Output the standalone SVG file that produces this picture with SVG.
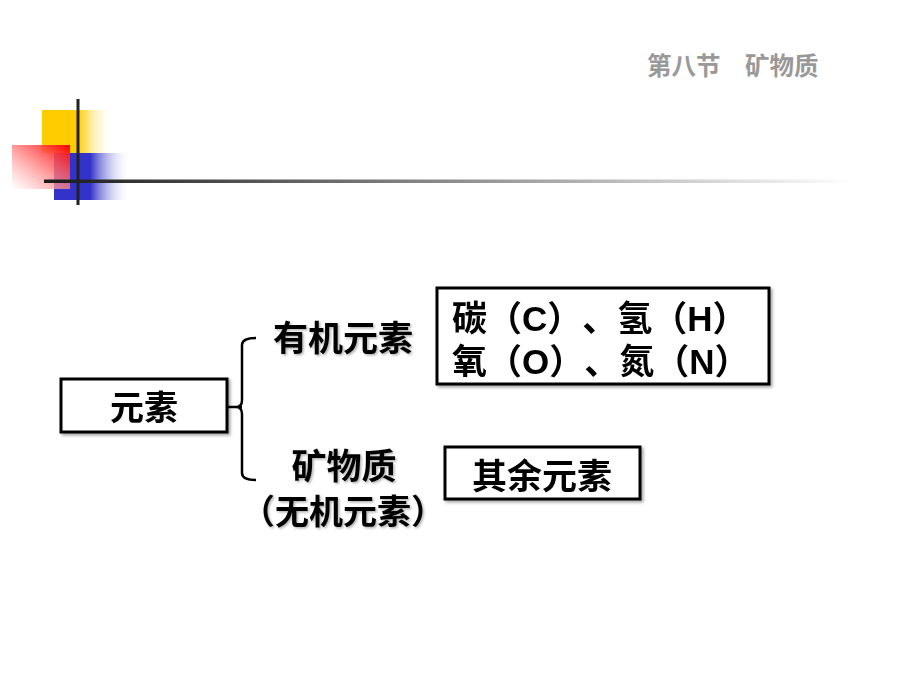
<svg xmlns="http://www.w3.org/2000/svg" width="920" height="690" viewBox="0 0 920 690">
<defs>
<linearGradient id="gy" x1="0" y1="0" x2="1" y2="0">
<stop offset="0" stop-color="#ffcc00"/><stop offset="0.5" stop-color="#ffcc00"/><stop offset="1" stop-color="#ffffff" stop-opacity="0"/>
</linearGradient>
<linearGradient id="gb" x1="0" y1="0" x2="1" y2="0">
<stop offset="0" stop-color="#3333cc"/><stop offset="0.47" stop-color="#3333cc"/><stop offset="1" stop-color="#ffffff" stop-opacity="0"/>
</linearGradient>
<linearGradient id="gr" x1="1" y1="0" x2="0" y2="1">
<stop offset="0" stop-color="#ff0000"/><stop offset="1" stop-color="#ffffff" stop-opacity="0.6"/>
</linearGradient>
<linearGradient id="gl" x1="0" y1="0" x2="1" y2="0">
<stop offset="0" stop-color="#1a1a1a"/><stop offset="1" stop-color="#ffffff"/>
</linearGradient>
<filter id="sh" x="-10%" y="-10%" width="130%" height="140%">
<feDropShadow dx="2" dy="2" stdDeviation="1.5" flood-color="#000" flood-opacity="0.35"/>
</filter>
<filter id="tsh" x="-10%" y="-10%" width="130%" height="140%">
<feDropShadow dx="1.5" dy="1.5" stdDeviation="1" flood-color="#000" flood-opacity="0.3"/>
</filter>
</defs>
<style>
text{text-spacing-trim:space-all;}
.t{font-family:"Liberation Sans","Noto Sans CJK SC",sans-serif;font-weight:bold;fill:#000;}
.box{fill:#fff;stroke:#000;stroke-width:3;}
.title{font-family:"Noto Sans CJK SC",sans-serif;font-weight:bold;fill:#999;font-size:24.5px;}
.con{fill:none;stroke:#000;stroke-width:2.5;}
</style>
<rect width="920" height="690" fill="#fff"/>
<g id="decor">
<rect x="42" y="110" width="72" height="43" fill="url(#gy)"/>
<rect x="54" y="153" width="77" height="47" fill="url(#gb)"/>
<rect x="12" y="145" width="58" height="44" fill="url(#gr)"/>
<rect x="76.5" y="99" width="3" height="106" fill="#222"/>
<rect x="44" y="179.5" width="810" height="3.5" fill="url(#gl)"/>
</g>
<g id="title">
<text class="title" x="647" y="75">第八节</text>
<text class="title" x="745" y="75">矿物质</text>
</g>
<g id="connectors">
<path class="con" d="M227 407 H242 M256 338 Q242 338 242 345 V400 Q242 407 236 407 Q242 407 242 414 V473 Q242 480 256 480"/>
</g>
<g id="node-yuansu" filter="url(#sh)">
<rect class="box" x="61" y="379" width="166" height="53"/>
<text class="t" x="144" y="420" font-size="34" text-anchor="middle">元素</text>
</g>
<g id="label-youji" filter="url(#tsh)">
<text class="t" x="343" y="351" font-size="35" text-anchor="middle">有机元素</text>
</g>
<g id="label-kuangwu" filter="url(#tsh)">
<text class="t" x="344" y="479" font-size="35" text-anchor="middle">矿物质</text>
<text class="t" x="343" y="524" font-size="34" text-anchor="middle">（无机元素）</text>
</g>
<g id="node-chnO" filter="url(#sh)">
<rect class="box" x="437" y="288" width="332" height="96"/>
<text class="t" x="452" y="331" font-size="35">碳（C）、氢（H）</text>
<text class="t" x="452" y="374" font-size="35">氧（O）、氮（N）</text>
</g>
<g id="node-qiyu" filter="url(#sh)">
<rect class="box" x="445" y="447" width="195" height="52"/>
<text class="t" x="542" y="489" font-size="35" text-anchor="middle">其余元素</text>
</g>
</svg>
